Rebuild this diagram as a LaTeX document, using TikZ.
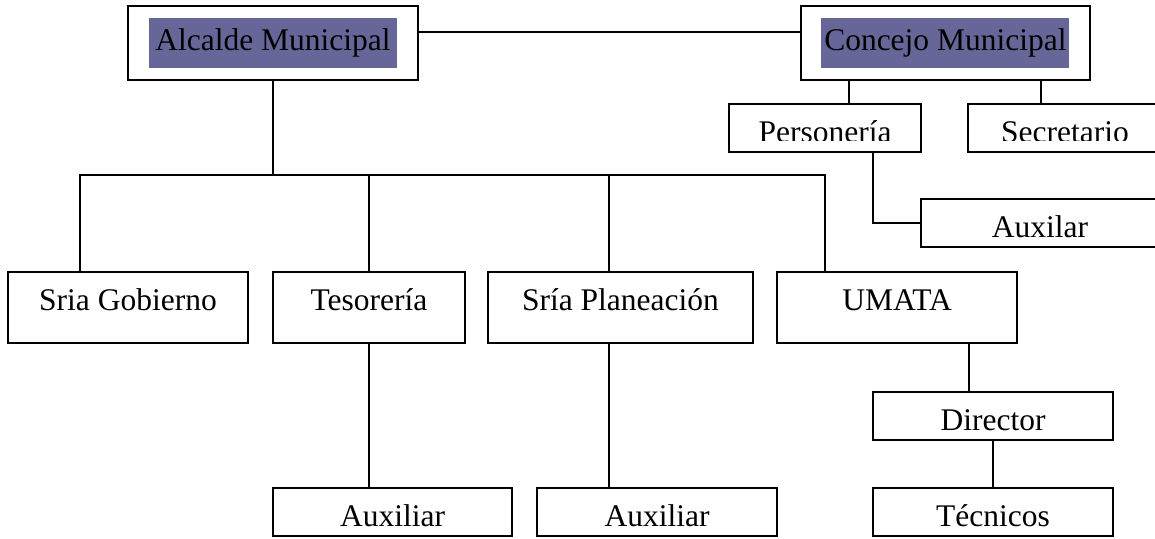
\documentclass[tikz,border=0pt]{standalone}
\usepackage{fontspec}
\setmainfont{Liberation Serif}
\usetikzlibrary{positioning,fit}
\definecolor{shade}{RGB}{102,102,153}
\tikzset{
    unit/.style = {
        draw,
        line width=2pt,
        outer sep=0pt,
        inner sep=0pt,
        font=\fontsize{31.5}{36}\selectfont,
        },
    big unit/.style = {
        unit,
        minimum height=71pt,
        text height=38pt,
        text depth=33pt,
        },
    small unit/.style = {
        unit,
        minimum height=48pt,
        text height=38pt,
        text depth=10pt,
        },
    head/.style = {
        fill = shade,
        inner sep=0pt,
        minimum width=248pt,
        text height=32pt,
        text depth=18pt,
        font=\fontsize{31.5}{36}\selectfont,
        },
    head box/.style = {
        draw,
        line width=2pt,
        outer sep=0pt,
        inner xsep=20.5pt,
        inner ysep=11.5pt,
        },
    link/.style = {
        line width=2pt,
        },
}

\begin{document}
\begin{tikzpicture}[x=1pt, y=1pt]
    \useasboundingbox (0,0) rectangle (1155,-538);

    % top
    \node[head] (alc) at (273,-43) {Alcalde Municipal};
    \node[head, right=424pt of alc] (con) {Concejo Municipal};
    \node[head box, fit=(alc)] (alcbox) {};
    \node[head box, fit=(con)] (conbox) {};

    % concejo side
    \node[small unit, minimum width=192pt, anchor=north west] (pers) at (729,-104) {};
    \node[small unit, minimum width=194pt, right=47pt of pers] (secr) {};
    \node[small unit, minimum width=238pt, below right=47pt and 0pt of pers] (auxr) {Auxilar};
    \begin{scope}
        \clip (pers.north west) rectangle ([yshift=12pt]pers.south east)
              (secr.north west) rectangle ([yshift=12pt]secr.south east);
        \node[small unit, draw=none, minimum width=192pt] (perstext) at (pers) {Personería};
        \node[small unit, draw=none, minimum width=194pt] (secrtext) at (secr) {Secretario};
    \end{scope}

    % dependencies
    \node[big unit, minimum width=240pt, anchor=north west] (gob) at (8,-272) {Sria Gobierno};
    \node[big unit, minimum width=192pt, right=25pt of gob] (tes) {Tesorería};
    \node[big unit, minimum width=265pt, right=23pt of tes] (plan) {Sría Planeación};
    \node[big unit, minimum width=240pt, right=24pt of plan] (umata) {UMATA};

    \node[small unit, minimum width=239pt, below=145pt of tes.south west, anchor=north west] (aux1) {Auxiliar};
    \node[small unit, minimum width=240pt, right=25pt of aux1] (aux2) {Auxiliar};
    \node[small unit, minimum width=240pt, anchor=north west] (dir) at (873,-392) {Director};
    \node[small unit, minimum width=240pt, below=48pt of dir] (tec) {Técnicos};

    \coordinate (bus) at ([yshift=-95pt]alcbox.south);

    \draw[link] ([yshift=11.5pt]alcbox.east) -- ([yshift=11.5pt]conbox.west);
    \draw[link] (alcbox.south) -- (bus);
    \draw[link] ([xshift=-48pt]gob.north) |- (bus) -| ([xshift=-72pt]umata.north);
    \draw[link] (tes.north) -- (tes.north |- bus);
    \draw[link] ([xshift=-11.5pt]plan.north) -- ([xshift=-11.5pt]plan.north |- bus);
    \draw[link] (tes.south) -- (tes.south |- aux1.north);
    \draw[link] ([xshift=-11.5pt]plan.south) -- ([xshift=-11.5pt]plan.south |- aux2.north);
    \draw[link] ([xshift=72pt]umata.south) -- ([xshift=72pt]umata.south |- dir.north);
    \draw[link] (dir.south) -- (tec.north);
    \draw[link] ([xshift=-96pt]conbox.south) -- ([xshift=-96pt]conbox.south |- pers.north);
    \draw[link] ([xshift=96pt]conbox.south) -- ([xshift=96pt]conbox.south |- secr.north);
    \draw[link] ([xshift=48pt]pers.south) |- (auxr.west);
\end{tikzpicture}
\end{document}
